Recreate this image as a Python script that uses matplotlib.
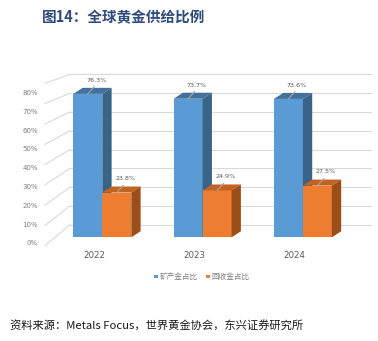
import numpy as np
import matplotlib
matplotlib.use('Agg')
import matplotlib.pyplot as plt
from matplotlib.patches import Polygon, Rectangle

plt.rcParams['font.family'] = ['Noto Sans CJK SC', 'DejaVu Sans']

# ===== data =====
years = ['2022', '2023', '2024']
mine_share = [76.3, 73.7, 73.6]       # 矿产金占比 (%)
recycle_share = [23.8, 24.9, 27.5]    # 回收金占比 (%)
series_names = ['矿产金占比', '回收金占比']
y_ticks = [0, 10, 20, 30, 40, 50, 60, 70, 80]

# ===== style =====
BLUE = ('#5b9bd5', '#41719c', '#3a6487')     # front, top, side
ORANGE = ('#ed7d31', '#c4621f', '#9c4e1a')
GRID = '#d9d9d9'
TXT = '#7f7f7f'
W = 0.289          # bar width (category units)
DX, DY = 0.093, 3.2  # bar depth offset
BACK = 6.7         # back wall raised above the bar front plane

fig = plt.figure(figsize=(3.78, 3.41), dpi=100)
ax = fig.add_axes([0, 0, 1, 1])
ax.set_xlim(-1.02, 2.749)
ax.set_ylim(-55.16, 126.22)
ax.axis('off')

# back wall gridlines + side wall lines + tick labels
for v in y_ticks:
    ax.plot([-0.322, 2.676], [BACK + v, BACK + v], color=GRID, lw=0.8, zorder=1)
    ax.plot([-0.571, -0.322], [-4.5 + 1.08 * v, BACK + v], color=GRID, lw=0.8, zorder=1)
    ax.text(-0.641, -3.2 + v, f'{v}%', ha='right', va='center', fontsize=5,
            color=TXT, family='DejaVu Sans')

x = np.arange(len(years))


def bar3d(left, vals, cols, z):
    ax.bar(left, vals, W, align='edge', color=cols[0], lw=0, zorder=z)
    for l, v in zip(left, vals):
        top = [(l, v), (l + DX, v + DY), (l + W + DX, v + DY), (l + W, v)]
        side = [(l + W, 0), (l + W, v), (l + W + DX, v + DY), (l + W + DX, DY)]
        ax.add_patch(Polygon(top, closed=True, fc=cols[1], lw=0, zorder=z))
        ax.add_patch(Polygon(side, closed=True, fc=cols[2], lw=0, zorder=z))
        # data label with leader line
        cx = l + W / 2
        ax.plot([cx, cx + 0.065], [v, v + 3.8], color='#a6a6a6', lw=0.8, zorder=z + 0.5)
        ax.text(cx + 0.085, v + 7.3, f'{v}%', ha='center', va='center', fontsize=4.6,
                color='#595959', family='DejaVu Sans', zorder=z + 0.5)


bar3d(x - W, mine_share, BLUE, 2)
bar3d(x, recycle_share, ORANGE, 3)

for i, yr in enumerate(years):
    ax.text(x[i] - 0.08, -9.6, yr, ha='center', va='center', fontsize=6.2,
            color='#595959', family='DejaVu Sans')

# legend
ly = 1 - 276.7 / 341
for sx, tx, col, name in [(154, 159.5, BLUE[0], series_names[0]),
                          (206, 211.5, ORANGE[0], series_names[1])]:
    fig.patches.append(Rectangle((sx / 378, ly - 1.7 / 341), 3.6 / 378, 3.6 / 341,
                                 transform=fig.transFigure, fc=col, lw=0))
    fig.text(tx / 378, ly, name, color=TXT, fontsize=5.5, va='center', ha='left')

# title & source
fig.text(42 / 378, 1 - 17.5 / 341, '图14：全球黄金供给比例', fontsize=10.5, fontweight='bold',
         color='#2f4b7c', va='center', ha='left')
fig.text(10 / 378, 1 - 326 / 341, '资料来源：Metals Focus，世界黄金协会，东兴证券研究所',
         fontsize=8.1, style='italic', color='#1a1a1a', va='center', ha='left')

fig.savefig('out.png', dpi=100)
